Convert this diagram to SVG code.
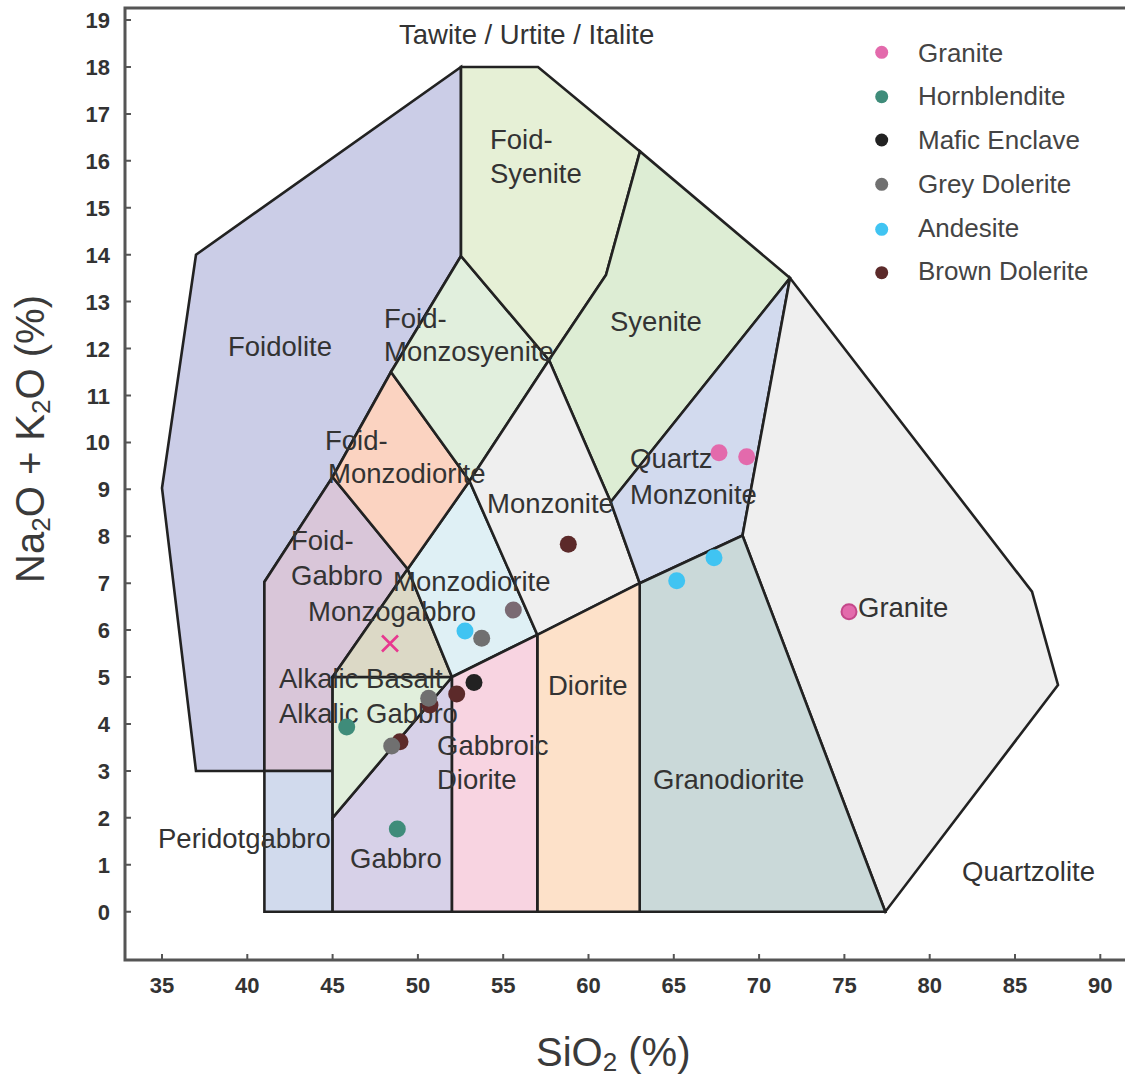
<svg xmlns="http://www.w3.org/2000/svg" width="1125" height="1079" viewBox="0 0 1125 1079">
<style>
.reg{stroke:#222;stroke-width:2.6;stroke-linejoin:miter}
.lbl{font-family:"Liberation Sans",Arial,sans-serif;font-size:27.5px;fill:#333}
.tick{font-family:"Liberation Sans",Arial,sans-serif;font-size:22px;font-weight:bold;fill:#333}
.ttl{font-family:"Liberation Sans",Arial,sans-serif;font-size:40px;fill:#3a3a3a}
.ax{stroke:#555;stroke-width:3;fill:none}
.tk{stroke:#555;stroke-width:2}
.leg{font-family:"Liberation Sans",Arial,sans-serif;font-size:26px;fill:#444}
</style>
<rect width="1125" height="1079" fill="#ffffff"/>
<g id="axes">
<path class="ax" d="M1125,8 H125 V960 H1125"/>
<g id="yticks">
<path class="tk" d="M125,911.7h6 M125,864.8h6 M125,817.8h6 M125,770.9h6 M125,724h6 M125,677.1h6 M125,630.1h6 M125,583.2h6 M125,536.3h6 M125,489.3h6 M125,442.4h6 M125,395.5h6 M125,348.5h6 M125,301.6h6 M125,254.7h6 M125,207.8h6 M125,160.8h6 M125,113.9h6 M125,67h6 M125,20h6"/>
<g class="tick" text-anchor="end">
<text x="110" y="919.7">0</text><text x="110" y="872.8">1</text><text x="110" y="825.8">2</text><text x="110" y="778.9">3</text><text x="110" y="732">4</text><text x="110" y="685.1">5</text><text x="110" y="638.1">6</text><text x="110" y="591.2">7</text><text x="110" y="544.3">8</text><text x="110" y="497.3">9</text><text x="110" y="450.4">10</text><text x="110" y="403.5">11</text><text x="110" y="356.5">12</text><text x="110" y="309.6">13</text><text x="110" y="262.7">14</text><text x="110" y="215.8">15</text><text x="110" y="168.8">16</text><text x="110" y="121.9">17</text><text x="110" y="75">18</text><text x="110" y="28">19</text>
</g>
</g>
<g id="xticks">
<path class="tk" d="M162,960v-6 M247.3,960v-6 M332.6,960v-6 M417.9,960v-6 M503.2,960v-6 M588.5,960v-6 M673.8,960v-6 M759.1,960v-6 M844.4,960v-6 M929.7,960v-6 M1015,960v-6 M1100.3,960v-6"/>
<g class="tick" text-anchor="middle">
<text x="162" y="993">35</text><text x="247.3" y="993">40</text><text x="332.6" y="993">45</text><text x="417.9" y="993">50</text><text x="503.2" y="993">55</text><text x="588.5" y="993">60</text><text x="673.8" y="993">65</text><text x="759.1" y="993">70</text><text x="844.4" y="993">75</text><text x="929.7" y="993">80</text><text x="1015" y="993">85</text><text x="1100.3" y="993">90</text>
</g>
</g>
<text id="x-title" class="ttl" x="536" y="1066">SiO<tspan font-size="26" dy="5">2</tspan><tspan dy="-5"> (%)</tspan></text>
<text id="y-title" class="ttl" transform="rotate(-90 44 439)" x="44" y="439" text-anchor="middle">Na<tspan font-size="26" dy="6">2</tspan><tspan dy="-6">O + K</tspan><tspan font-size="26" dy="6">2</tspan><tspan dy="-6">O (%)</tspan></text>
</g>
<g id="regions">
<g id="foidolite"><polygon class="reg" fill="#cbcde7" points="196,771 162,488 196,254.7 461,67 461,256 391,372 332.6,477 264.4,582 264.4,771"/></g>
<g id="foid-gabbro"><polygon class="reg" fill="#d9c6d9" points="264.4,771 264.4,582 332.6,477 407.7,569 332.6,677 332.6,771"/></g>
<g id="peridotgabbro"><polygon class="reg" fill="#d1daed" points="264.4,771 332.6,771 332.6,911.7 264.4,911.7"/></g>
<g id="gabbro"><polygon class="reg" fill="#d7d1e8" points="332.6,817.8 452,677 452,911.7 332.6,911.7"/></g>
<g id="alkalic-gabbro"><polygon class="reg" fill="#e1efdc" points="332.6,677 452,677 332.6,817.8"/></g>
<g id="monzogabbro"><polygon class="reg" fill="#dcd9c6" points="332.6,677 407.7,569 452,677"/></g>
<g id="monzodiorite"><polygon class="reg" fill="#dff0f5" points="407.7,569 469.5,481 537.3,634.8 452,677"/></g>
<g id="foid-monzodiorite"><polygon class="reg" fill="#fbd3c1" points="332.6,477 391,372 469.5,481 407.7,569"/></g>
<g id="foid-monzosyenite"><polygon class="reg" fill="#e1efdd" points="391,372 461,256 549,360 469.5,481"/></g>
<g id="foid-syenite"><polygon class="reg" fill="#e6f0d6" points="461,67 538,67 640,151.4 606,275 549,360 461,256"/></g>
<g id="syenite"><polygon class="reg" fill="#ddedd4" points="549,360 606,275 640,151.4 790,278 610.7,502"/></g>
<g id="monzonite"><polygon class="reg" fill="#efefef" points="469.5,481 549,360 610.7,502 639.7,583.2 537.3,634.8"/></g>
<g id="quartz-monzonite"><polygon class="reg" fill="#d2daee" points="610.7,502 790,278 742.5,535.5 639.7,583.2"/></g>
<g id="granite"><polygon class="reg" fill="#efefef" points="742.5,535.5 790,278 1032,591.7 1058,685 885.3,911.7"/></g>
<g id="granodiorite"><polygon class="reg" fill="#cad9d9" points="639.7,583.2 742.5,535.5 885.3,911.7 639.7,911.7"/></g>
<g id="diorite"><polygon class="reg" fill="#fde1c9" points="537.3,634.8 639.7,583.2 639.7,911.7 537.3,911.7"/></g>
<g id="gabbroic-diorite"><polygon class="reg" fill="#f8d4e1" points="452,677 537.3,634.8 537.3,911.7 452,911.7"/></g>
</g>
<g id="labels" class="lbl">
<text id="lbl-tawite" x="399" y="44">Tawite / Urtite / Italite</text>
<text id="lbl-foid-syenite" x="490" y="149">Foid-<tspan x="490" y="183">Syenite</tspan></text>
<text id="lbl-syenite" x="610" y="331">Syenite</text>
<text id="lbl-foidolite" x="228" y="356">Foidolite</text>
<text id="lbl-foid-monzosyenite" x="384" y="328">Foid-<tspan x="384" y="361">Monzosyenite</tspan></text>
<text id="lbl-foid-monzodiorite" x="325" y="450">Foid-<tspan x="328" y="483">Monzodiorite</tspan></text>
<text id="lbl-quartz-monzonite" x="630" y="468">Quartz<tspan x="630" y="504">Monzonite</tspan></text>
<text id="lbl-monzonite" x="487" y="513">Monzonite</text>
<text id="lbl-foid-gabbro" x="291" y="550">Foid-<tspan x="291" y="585">Gabbro</tspan></text>
<text id="lbl-monzodiorite" x="393" y="591">Monzodiorite</text>
<text id="lbl-monzogabbro" x="308" y="621">Monzogabbro</text>
<text id="lbl-alkalic" x="279" y="688">Alkalic Basalt<tspan x="279" y="723">Alkalic Gabbro</tspan></text>
<text id="lbl-gabbroic-diorite" x="437" y="755">Gabbroic<tspan x="437" y="789">Diorite</tspan></text>
<text id="lbl-diorite" x="548" y="695">Diorite</text>
<text id="lbl-gabbro" x="350" y="868">Gabbro</text>
<text id="lbl-peridotgabbro" x="158" y="848">Peridotgabbro</text>
<text id="lbl-granodiorite" x="653" y="789">Granodiorite</text>
<text id="lbl-granite" x="858" y="617">Granite</text>
<text id="lbl-quartzolite" x="962" y="881">Quartzolite</text>
</g>
<g id="points">
<g id="pts-brown-behind" fill="#5c2a2a"><circle cx="400" cy="741.7" r="8.5"/><circle cx="430" cy="705" r="8.5"/></g>
<g id="pts-granite" fill="#e36aac"><circle cx="719" cy="452.7" r="8.5"/><circle cx="746.7" cy="456.7" r="8.5"/><circle cx="849" cy="611.7" r="7.5" stroke="#c4478a" stroke-width="2"/></g>
<g id="pts-hornblendite" fill="#3f8c7a"><circle cx="346.7" cy="727" r="8.5"/><circle cx="397.3" cy="829" r="8.5"/></g>
<g id="pts-grey" fill="#707070"><circle cx="391.7" cy="746" r="8.5"/><circle cx="428.7" cy="698.3" r="8.5"/><circle cx="481.7" cy="638.3" r="8.5"/><circle cx="513.3" cy="610" r="8.5" fill="#7a6a73"/></g>
<g id="pts-andesite" fill="#40c4f2"><circle cx="465" cy="631" r="8.5"/><circle cx="676.7" cy="580.7" r="8.5"/><circle cx="714" cy="557.7" r="8.5"/></g>
<g id="pts-brown" fill="#5c2a2a"><circle cx="456.7" cy="694" r="8.5"/><circle cx="568.3" cy="544.3" r="8.5"/></g>
<g id="pts-mafic" fill="#222"><circle cx="474" cy="682.5" r="8.5"/></g>
<path id="pt-x" d="M382,635.5 L398,651.5 M398,635.5 L382,651.5" stroke="#e8388f" stroke-width="2.6" fill="none"/>
</g>
<g id="legend" class="leg">
<circle cx="881.7" cy="52.3" r="6.5" fill="#e36aac"/><text x="918" y="61.5">Granite</text>
<circle cx="881.7" cy="96.7" r="6.5" fill="#3f8c7a"/><text x="918" y="105">Hornblendite</text>
<circle cx="881.7" cy="140" r="6.5" fill="#222"/><text x="918" y="149">Mafic Enclave</text>
<circle cx="881.7" cy="184.3" r="6.5" fill="#707070"/><text x="918" y="192.7">Grey Dolerite</text>
<circle cx="881.7" cy="229.3" r="6.5" fill="#40c4f2"/><text x="918" y="236.7">Andesite</text>
<circle cx="881.7" cy="272.7" r="6.5" fill="#5c2a2a"/><text x="918" y="280">Brown Dolerite</text>
</g>
</svg>
